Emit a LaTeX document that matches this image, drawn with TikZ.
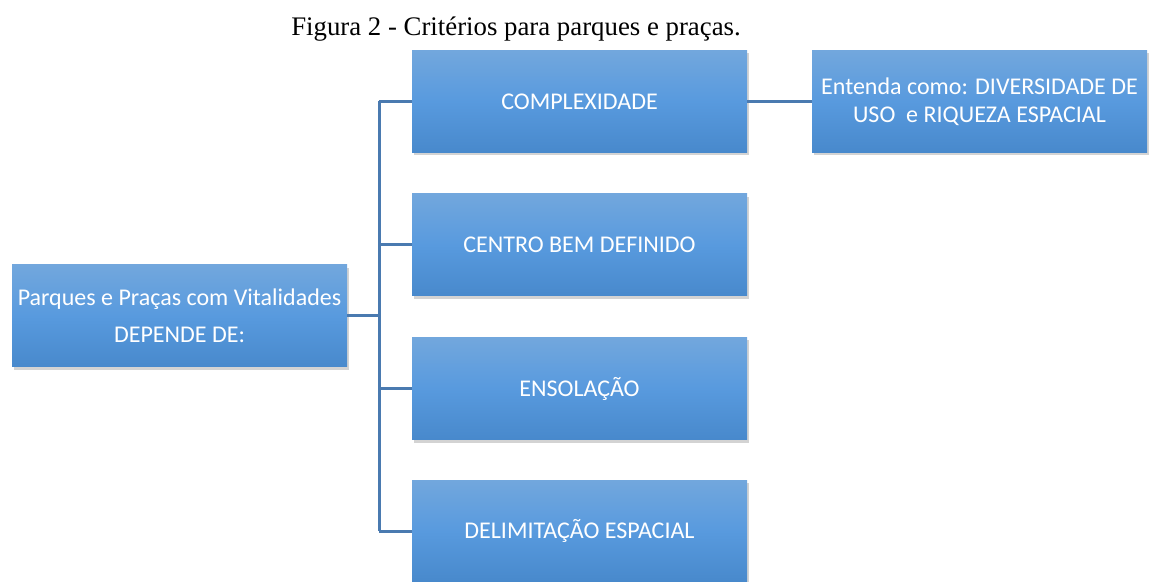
\documentclass[tikz,border=0pt]{standalone}
\usepackage{fontspec}
\setmainfont{Liberation Serif}
\newfontfamily\boxfont{Carlito}
\usetikzlibrary{shadows,calc}
\definecolor{boxtop}{RGB}{114,167,221}
\definecolor{boxmid}{RGB}{88,154,222}
\definecolor{boxbot}{RGB}{72,137,204}
\definecolor{linkblue}{RGB}{74,122,176}

\begin{document}
\begin{tikzpicture}[x=1pt, y=1pt,
    item/.style={top color=boxtop, bottom color=boxbot, middle color=boxmid,
        minimum width=335pt, minimum height=102pt, inner sep=0pt, text=white,
        align=center, font=\boxfont\fontsize{24}{28}\selectfont,
        drop shadow={opacity=0.35, shadow xshift=2pt, shadow yshift=-3pt}},
    link/.style={draw=linkblue, line width=3pt}]
    \useasboundingbox (0,0) rectangle (1155,581);
    \node[font=\fontsize{26.8}{30}\selectfont] (title) at (516,552) {Figura 2 - Critérios para parques e praças.};
    \coordinate (bus) at (379,265);
    % boxes
    \node[item, font=\boxfont\fontsize{24}{37}\selectfont] (root) at (179.5,265) {Parques e Praças com Vitalidades\\DEPENDE DE:};
    \node[item] (comp) at (579.5,479.5) {COMPLEXIDADE};
    \node[item] (centro) at (579.5,336) {CENTRO BEM DEFINIDO};
    \node[item] (ensol) at (579.5,192.5) {ENSOLAÇÃO};
    \node[item] (delim) at (579.5,50) {DELIMITAÇÃO ESPACIAL};
    \node[item] (uso) at (979.5,479.5) {Entenda como: DIVERSIDADE DE\\USO\ \ e RIQUEZA ESPACIAL};
    % connectors
    \draw[link] (root) -- (bus);
    \draw[link] (bus |- comp) -- (bus |- delim);
    \foreach \n in {comp,centro,ensol,delim}
        \draw[link] (bus |- \n) -- (\n);
    \draw[link] (comp) -- (uso);
\end{tikzpicture}
\end{document}
